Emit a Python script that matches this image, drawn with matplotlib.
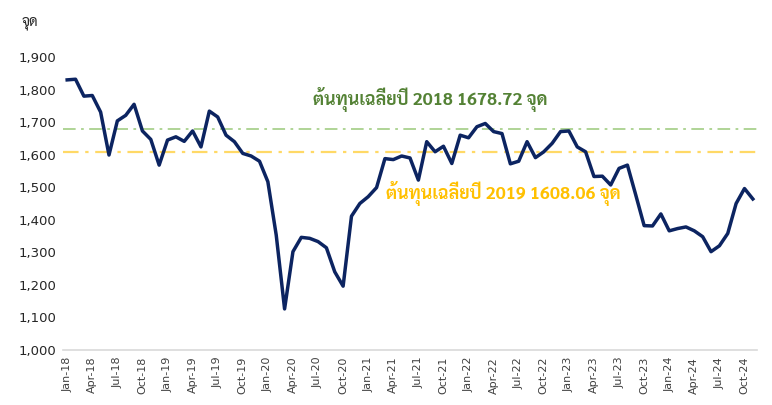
import matplotlib
matplotlib.use("Agg")
import matplotlib.pyplot as plt
from matplotlib import font_manager
from matplotlib.ticker import FuncFormatter

# monthly values, Jan-18 .. Nov-24
months = []
for yr in range(18, 25):
    for m in ['Jan', 'Feb', 'Mar', 'Apr', 'May', 'Jun', 'Jul', 'Aug', 'Sep', 'Oct', 'Nov', 'Dec']:
        months.append(f"{m}-{yr}")
months = months[:83]

values = [
    1830, 1832, 1780, 1782, 1731, 1599, 1704, 1721, 1755, 1673, 1647, 1568,
    1645, 1655, 1641, 1673, 1624, 1734, 1716, 1660, 1640, 1604, 1596, 1580,
    1517, 1353, 1126, 1302, 1346, 1343, 1333, 1314, 1240, 1196, 1411, 1450,
    1471, 1499, 1588, 1585, 1596, 1590, 1522, 1640, 1609, 1626, 1573, 1660,
    1652, 1686, 1696, 1671, 1665, 1572, 1580, 1640, 1591, 1609, 1635, 1671,
    1673, 1624, 1609, 1533, 1534, 1507, 1558, 1568, 1476, 1382, 1381, 1418,
    1366, 1373, 1378, 1366, 1348, 1302, 1320, 1358, 1450, 1496, 1464,
]

avg2018 = 1678.72
avg2019 = 1608.06
label2018 = "ต้นทุนเฉลี่ยปี 2018 1678.72 จุด"
label2019 = "ต้นทุนเฉลี่ยปี 2019 1608.06 จุด"
unit = "จุด"

# pick a font with Thai glyphs
avail = {f.name for f in font_manager.fontManager.ttflist}
thai = next((n for n in ['Sarabun', 'Noto Sans Thai', 'Bai Jamjuree', 'Athiti', 'Anuphan'] if n in avail),
            'DejaVu Sans')
plt.rcParams['font.family'] = [thai, 'DejaVu Sans']

fig = plt.figure(figsize=(7.72, 4.05), dpi=100)
ax = fig.add_axes([0.0816, 0.136, 0.899, 0.723])

x = list(range(len(values)))
ax.plot(x, values, color='#0c2461', lw=2.5, solid_joinstyle='round', zorder=3)
ax.axhline(avg2018, color='#a9d18e', lw=1.3, dashes=(7, 3, 1.5, 3), zorder=2)
ax.axhline(avg2019, color='#ffd966', lw=1.6, dashes=(7, 3, 1.5, 3), zorder=2)

ax.set_xlim(-0.5, len(values) - 0.5)
ax.set_ylim(1000, 1900)

ax.set_xticks(x[::3])
ax.set_xticklabels(months[::3], rotation=90, fontsize=8, color='#404040', family='DejaVu Sans')
ax.set_yticks(range(1000, 2000, 100))
ax.yaxis.set_major_formatter(FuncFormatter(lambda v, p: f"{int(v):,}"))
for t in ax.get_yticklabels():
    t.set_fontsize(9.5)
    t.set_color('#262626')
    t.set_family('DejaVu Sans')
ax.tick_params(length=0, pad=5)
for s in ['top', 'right', 'left']:
    ax.spines[s].set_visible(False)
ax.spines['bottom'].set_color('#d9d9d9')
ax.spines['bottom'].set_linewidth(1.2)

fig.text(313 / 772, 1 - 100 / 405, label2018, color='#548235', fontsize=12.8,
         fontweight='bold', ha='left', va='center')
fig.text(386 / 772, 1 - 193 / 405, label2019, color='#ffc000', fontsize=12.8,
         fontweight='bold', ha='left', va='center')
fig.text(30 / 772, 1 - 23 / 405, unit, color='#262626', fontsize=10.5, ha='center', va='center')

fig.savefig("out.png")
